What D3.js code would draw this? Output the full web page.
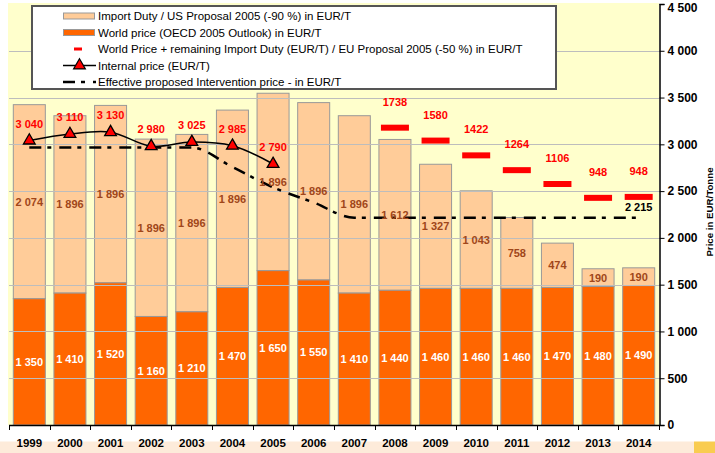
<!DOCTYPE html>
<html>
<head>
<meta charset="utf-8">
<script src="https://cdn.jsdelivr.net/npm/d3@7/dist/d3.min.js"></script>
<style>
  html, body { margin: 0; padding: 0; background: #ffffff; }
  svg { display: block; font-family: "Liberation Sans", Arial, sans-serif; }
</style>
</head>
<body>
<svg id="chart" width="715" height="453"></svg>
<script>
// ---------- DATA ----------
const years = ["1999","2000","2001","2002","2003","2004","2005","2006","2007","2008","2009","2010","2011","2012","2013","2014"];
const worldPrice = [1350,1410,1520,1160,1210,1470,1650,1550,1410,1440,1460,1460,1460,1470,1480,1490];
const importDuty = [2074,1896,1896,1896,1896,1896,1896,1896,1896,1612,1327,1043,758,474,190,190];
const internalYears = ["1999","2000","2001","2002","2003","2004","2005"];
const internalPrice = [3040,3110,3130,2980,3025,2985,2790];
const euYears = ["2008","2009","2010","2011","2012","2013","2014"];
const euRemainingDuty = [1738,1580,1422,1264,1106,948,948];
const interventionPrice = [2965,2965,2965,2965,2965,2757,2540,2378,2215,2215,2215,2215,2215,2215,2215,2215];
const yTicks = [0,500,1000,1500,2000,2500,3000,3500,4000,4500];
const yTickLabels = ["0","500","1 000","1 500","2 000","2 500","3 000","3 500","4 000","4 500"];
const legendLabels = [
  "Import Duty / US Proposal 2005 (-90 %) in EUR/T",
  "World price (OECD 2005 Outlook) in EUR/T",
  "World Price + remaining Import Duty (EUR/T) / EU Proposal 2005 (-50 %) in EUR/T",
  "Internal price (EUR/T)",
  "Effective proposed Intervention price - in EUR/T"
];
const yAxisTitle = "Price in EUR/Tonne";

// ---------- SETUP ----------
(function () {
const svg = d3.select("#chart");
const W = 715, H = 453;
const pLeft = 9, pRight = 659, pTop = 4, pBottom = 425;
const fmt = v => d3.format(",")(v).replace(/,/g, " ");

const x = d3.scaleBand().domain(years).range([pLeft, pRight]).paddingInner(0.212).paddingOuter(0.106);
const y = d3.scaleLinear().domain([0, 4500]).range([pBottom, pTop]);
const cx = d => x(d) + x.bandwidth() / 2;

const C = {
  plotBg: "#FFFFCC", duty: "#FFCC99", world: "#FF6600", red: "#FF0000",
  grid: "#BDBDBD", barStroke: "#999999", dutyLabel: "#A0461A"
};

// plot background
svg.append("rect").attr("x", pLeft - 1).attr("y", pTop - 1).attr("width", pRight - pLeft + 1).attr("height", pBottom - pTop + 1).attr("fill", C.plotBg);

// bottom band
svg.append("rect").attr("x", 0).attr("y", 441.5).attr("width", 694).attr("height", H - 441.5).attr("fill", "#FDEBDA");
svg.append("rect").attr("x", 694).attr("y", 441.5).attr("width", W - 694).attr("height", H - 441.5).attr("fill", "#F9CC50");

// bars
const rows = years.map((yr, i) => ({ yr, w: worldPrice[i], d: importDuty[i] }));
const gBars = svg.append("g");
gBars.selectAll("rect.duty").data(rows).join("rect")
  .attr("x", r => x(r.yr)).attr("width", x.bandwidth())
  .attr("y", r => y(r.w + r.d)).attr("height", r => y(r.w) - y(r.w + r.d))
  .attr("fill", C.duty).attr("stroke", C.barStroke).attr("stroke-width", 1);
gBars.selectAll("rect.world").data(rows).join("rect")
  .attr("x", r => x(r.yr)).attr("width", x.bandwidth())
  .attr("y", r => y(r.w)).attr("height", r => y(0) - y(r.w))
  .attr("fill", C.world).attr("stroke", C.barStroke).attr("stroke-width", 1);

// gridlines
svg.append("g").selectAll("line").data(yTicks.filter(t => t > 0 && t < 4500)).join("line")
  .attr("x1", pLeft).attr("x2", pRight)
  .attr("y1", t => Math.round(y(t)) + 0.5).attr("y2", t => Math.round(y(t)) + 0.5)
  .attr("stroke", C.grid).attr("stroke-width", 1);

// axes
const yAxis = d3.axisRight(y).tickValues(yTicks).tickSize(5).tickFormat((d, i) => yTickLabels[i]);
const gy = svg.append("g").attr("transform", `translate(${pRight + 0.5},0)`).call(yAxis);
gy.select(".domain").attr("stroke", "#000").attr("stroke-width", 1.5);
gy.selectAll(".tick line").attr("stroke", "#000");
gy.selectAll(".tick text").attr("x", 8).attr("font-size", 12).attr("font-weight", "bold")
  .attr("font-family", "Liberation Sans, Arial, sans-serif").attr("fill", "#000")
  .attr("dy", d => d === 4500 ? "0.6em" : "0.32em");

const gx = svg.append("g");
gx.append("line").attr("x1", pLeft).attr("x2", pRight + 1).attr("y1", pBottom + 0.5).attr("y2", pBottom + 0.5).attr("stroke", "#000").attr("stroke-width", 1.5);
const boundaries = years.map(yr => x(yr) - x.step() * x.paddingInner() / 2).concat([pRight]);
gx.selectAll("line.tk").data(boundaries).join("line")
  .attr("x1", b => Math.round(b) + 0.5).attr("x2", b => Math.round(b) + 0.5)
  .attr("y1", pBottom).attr("y2", pBottom + 5).attr("stroke", "#000").attr("stroke-width", 1);
gx.selectAll("text").data(years).join("text")
  .attr("x", d => cx(d)).attr("y", 447).attr("text-anchor", "middle")
  .attr("font-size", 11.5).attr("font-weight", "bold").attr("fill", "#000").text(d => d);

// y axis title
svg.append("text").attr("transform", `translate(709,212) rotate(-90)`)
  .attr("text-anchor", "middle").attr("dominant-baseline", "central")
  .attr("font-size", 9.7).attr("font-weight", "bold").attr("fill", "#000").text(yAxisTitle);

// intervention dashed line
const dashPattern = "12,6,4,8";
svg.append("path").datum(years.map((yr, i) => [cx(yr), y(interventionPrice[i])]))
  .attr("d", d3.line().curve(d3.curveMonotoneX))
  .attr("fill", "none").attr("stroke", "#000").attr("stroke-width", 2.5).attr("stroke-dasharray", dashPattern);

// internal price line
const ipPts = internalYears.map((yr, i) => [cx(yr), y(internalPrice[i])]);
svg.append("path").datum(ipPts)
  .attr("d", d3.line().curve(d3.curveCatmullRom.alpha(0.5)))
  .attr("fill", "none").attr("stroke", "#000").attr("stroke-width", 1.5);
const tri = d3.symbol().type(d3.symbolTriangle).size(60);
svg.append("g").selectAll("path").data(ipPts).join("path")
  .attr("transform", p => `translate(${p[0]},${p[1]})`).attr("d", tri)
  .attr("fill", C.red).attr("stroke", "#000").attr("stroke-width", 1.3);

// EU proposal red markers
const euRows = euYears.map((yr, i) => ({ yr, v: worldPrice[years.indexOf(yr)] + euRemainingDuty[i], dt: euRemainingDuty[i] }));
svg.append("g").selectAll("rect").data(euRows).join("rect")
  .attr("x", r => cx(r.yr) - 14).attr("width", 28)
  .attr("y", r => y(r.v) - 3).attr("height", 6).attr("fill", C.red);

// labels
const lab = svg.append("g").attr("font-size", 11).attr("font-weight", "bold").attr("text-anchor", "middle").attr("dominant-baseline", "central");
lab.selectAll("text.w").data(rows).join("text")
  .attr("x", r => cx(r.yr)).attr("y", r => (y(0) + y(r.w)) / 2)
  .attr("fill", "#fff").text(r => fmt(r.w));
lab.selectAll("text.d").data(rows).join("text")
  .attr("x", r => cx(r.yr)).attr("y", r => (y(r.w) + y(r.w + r.d)) / 2)
  .attr("fill", C.dutyLabel).text(r => fmt(r.d));
lab.selectAll("text.ip").data(internalYears).join("text")
  .attr("x", d => cx(d)).attr("y", (d, i) => y(internalPrice[i]) - 17)
  .attr("fill", C.red).text((d, i) => fmt(internalPrice[i]));
lab.selectAll("text.eu").data(euRows).join("text")
  .attr("x", r => cx(r.yr)).attr("y", r => y(r.v) - 26)
  .attr("fill", C.red).text(r => r.dt);
const lastYr = years[years.length - 1];
lab.append("text").attr("x", cx(lastYr)).attr("y", y(interventionPrice[interventionPrice.length - 1]) - 11)
  .attr("fill", "#000").text(fmt(interventionPrice[interventionPrice.length - 1]));

// legend
const lg = svg.append("g");
lg.append("rect").attr("x", 32).attr("y", 6).attr("width", 524).attr("height", 83)
  .attr("fill", "#fff").attr("stroke", "#555").attr("stroke-width", 2);
const ly = [16, 32.5, 49, 65.5, 82];
lg.append("rect").attr("x", 63.5).attr("y", ly[0] - 3).attr("width", 31).attr("height", 6).attr("fill", C.duty).attr("stroke", C.barStroke);
lg.append("rect").attr("x", 63.5).attr("y", ly[1] - 3).attr("width", 31).attr("height", 6).attr("fill", C.world).attr("stroke", C.barStroke);
lg.append("rect").attr("x", 74).attr("y", ly[2] - 1.5).attr("width", 8).attr("height", 3).attr("fill", C.red);
lg.append("line").attr("x1", 63).attr("x2", 96).attr("y1", ly[3]).attr("y2", ly[3]).attr("stroke", "#000").attr("stroke-width", 1.5);
lg.append("path").attr("transform", `translate(79.5,${ly[3]})`).attr("d", tri).attr("fill", C.red).attr("stroke", "#000").attr("stroke-width", 1.2);
lg.append("line").attr("x1", 63).attr("x2", 96).attr("y1", ly[4]).attr("y2", ly[4]).attr("stroke", "#000").attr("stroke-width", 2.5).attr("stroke-dasharray", dashPattern);
lg.selectAll("text").data(legendLabels).join("text")
  .attr("x", 98).attr("y", (d, i) => ly[i]).attr("dominant-baseline", "central")
  .attr("font-size", 11.5).attr("fill", "#000").text(d => d);
})();
</script>
</body>
</html>
